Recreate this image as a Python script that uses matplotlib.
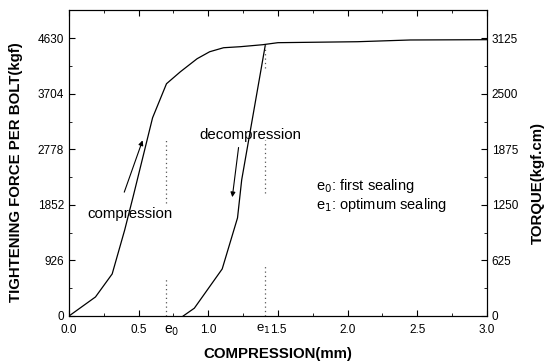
import numpy as np
import matplotlib.pyplot as plt
from matplotlib.ticker import MultipleLocator

plt.rcParams['font.family'] = ['Liberation Sans', 'DejaVu Sans']

# loading curve (compression)
comp_x = [0.0, 0.19, 0.31, 0.40, 0.46, 0.60, 0.70, 0.80, 0.92, 1.01, 1.11, 1.23, 1.39, 1.50, 2.07, 2.45, 3.0]
comp_y = [0, 317, 701, 1435, 1985, 3303, 3871, 4071, 4288, 4404, 4471, 4488, 4521, 4555, 4571, 4600, 4605]

# unloading curve (decompression)
decomp_x = [0.82, 0.90, 1.10, 1.21, 1.24, 1.41]
decomp_y = [0, 130, 784, 1635, 2269, 4521]

e0 = 0.70
e1 = 1.41

left_ticks = [0, 926, 1852, 2778, 3704, 4630]
right_ticks = [0, 625, 1250, 1875, 2500, 3125]
x_ticks = [0.0, 0.5, 1.0, 1.5, 2.0, 2.5, 3.0]

fig = plt.figure(figsize=(5.49, 3.63), dpi=100)
ax = fig.add_axes([0.1257, 0.1295, 0.761, 0.843])

ax.plot(comp_x, comp_y, color='black', lw=0.9)
ax.plot(decomp_x, decomp_y, color='black', lw=0.9)

# dotted markers for e0 and e1
dot = dict(color='#555555', lw=0.9, ls=(0, (1, 2.5)))
ax.plot([e0, e0], [1885, 2937], **dot)
ax.plot([e0, e0], [0, 634], **dot)
ax.plot([e1, e1], [4140, 4520], **dot)
ax.plot([e1, e1], [2050, 2930], **dot)
ax.plot([e1, e1], [0, 850], **dot)

# arrows
ax.annotate('', xy=(0.535, 2970), xytext=(0.39, 2020),
            arrowprops=dict(arrowstyle='-|>', color='black', lw=0.8, mutation_scale=7))
ax.annotate('', xy=(1.17, 1935), xytext=(1.22, 2854),
            arrowprops=dict(arrowstyle='-|>', color='black', lw=0.8, mutation_scale=7))

ax.text(0.44, 1702, 'compression', fontsize=10.8, ha='center', va='center')
ax.text(1.30, 3020, 'decompression', fontsize=10.8, ha='center', va='center')
ax.text(1.77, 2169, 'e$_0$: first sealing', fontsize=10.5, ha='left', va='center')
ax.text(1.77, 1852, 'e$_1$: optimum sealing', fontsize=10.5, ha='left', va='center')

ax.set_xlim(0, 3.0)
ax.set_ylim(0, 5100)
ax.set_xticks(x_ticks)
ax.set_xticklabels(['%.1f' % v for v in x_ticks])
ax.xaxis.set_minor_locator(MultipleLocator(0.25))
ax.set_yticks(left_ticks)
ax.set_yticklabels([str(v) for v in left_ticks])
ax.yaxis.set_minor_locator(MultipleLocator(463))
ax.tick_params(which='both', direction='in', top=True, labelsize=8.5)
ax.tick_params(which='major', length=4)
ax.tick_params(which='minor', length=2.5)
ax.tick_params(axis='x', pad=6)

# e0 / e1 labels under the axis
ax.text(e0 + 0.04, -120, 'e$_0$', fontsize=10, ha='center', va='top', clip_on=False)
ax.text(e1 - 0.015, -120, 'e$_1$', fontsize=9.5, ha='center', va='top', clip_on=False)

ax.set_xlabel('COMPRESSION(mm)', fontsize=10.8, fontweight='bold')
ax.xaxis.set_label_coords(0.5, -0.10)
ax.set_ylabel('TIGHTENING FORCE PER BOLT(kgf)', fontsize=10.8, fontweight='bold')
ax.yaxis.set_label_coords(-0.11, 0.47)

ax2 = ax.twinx()
ax2.set_ylim(0, 5100 * 3125 / 4630)
ax2.set_yticks(right_ticks)
ax2.set_yticklabels([str(v) for v in right_ticks])
ax2.yaxis.set_minor_locator(MultipleLocator(312.5))
ax2.tick_params(which='both', direction='in', labelsize=8.5)
ax2.tick_params(which='major', length=4)
ax2.tick_params(which='minor', length=2.5)
ax2.set_ylabel('TORQUE(kgf.cm)', fontsize=10.8, fontweight='bold')
ax2.yaxis.set_label_coords(1.105, 0.435)

fig.savefig('out.png', dpi=100)
